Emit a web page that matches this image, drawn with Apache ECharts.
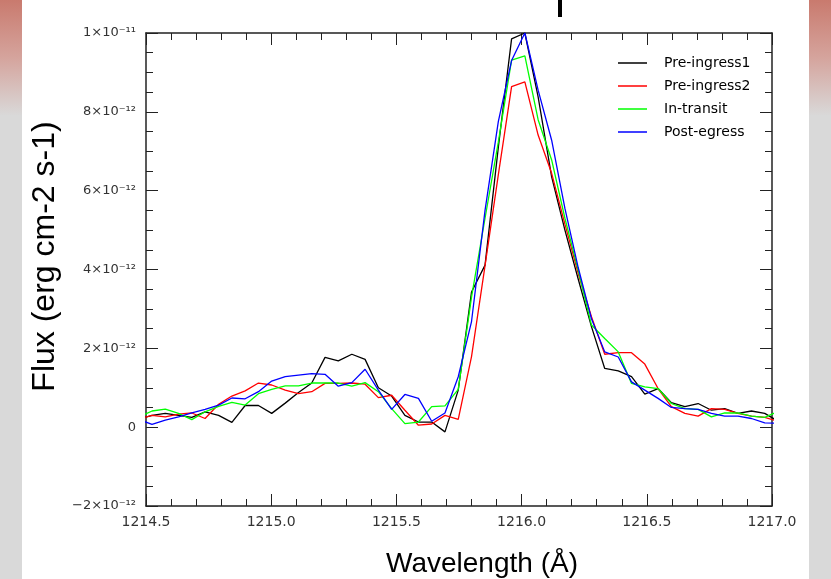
<!DOCTYPE html>
<html>
<head>
<meta charset="utf-8">
<script src="https://cdn.jsdelivr.net/npm/echarts@6/dist/echarts.min.js"></script>
<style>
html,body{margin:0;padding:0;background:#fff;}
#chart{width:831px;height:579px;}
</style>
</head>
<body>
<div id="chart"></div>
<script>
// Wavelength grid (Å)
const wavelength = [1214.470, 1214.524, 1214.577, 1214.630, 1214.683, 1214.736, 1214.790, 1214.843, 1214.896, 1214.949,
  1215.002, 1215.056, 1215.109, 1215.162, 1215.215, 1215.268, 1215.322, 1215.375, 1215.428, 1215.481,
  1215.534, 1215.588, 1215.641, 1215.694, 1215.747, 1215.800, 1215.854, 1215.907, 1215.960, 1216.013,
  1216.066, 1216.120, 1216.173, 1216.226, 1216.279, 1216.332, 1216.386, 1216.439, 1216.492, 1216.545,
  1216.598, 1216.652, 1216.705, 1216.758, 1216.811, 1216.864, 1216.918, 1216.971, 1217.024];

// Flux values in units of 1e-12 erg cm-2 s-1
const preIngress1 = [0.20, 0.30, 0.35, 0.30, 0.25, 0.39, 0.30, 0.12, 0.55, 0.55,
  0.35, 0.61, 0.88, 1.12, 1.77, 1.68, 1.85, 1.72, 1.00, 0.79,
  0.30, 0.13, 0.13, -0.12, 0.94, 3.43, 4.11, 7.10, 9.85, 10.00,
  8.38, 6.35, 5.00, 3.76, 2.55, 1.49, 1.43, 1.28, 0.84, 0.98,
  0.62, 0.52, 0.60, 0.43, 0.47, 0.35, 0.41, 0.35, 0.15];
const preIngress2 = [0.20, 0.30, 0.26, 0.33, 0.36, 0.22, 0.58, 0.79, 0.92, 1.12,
  1.07, 0.94, 0.85, 0.90, 1.11, 1.11, 1.12, 1.09, 0.75, 0.81,
  0.43, 0.05, 0.08, 0.30, 0.20, 1.79, 4.10, 6.40, 8.64, 8.76,
  7.41, 6.44, 5.15, 3.90, 2.80, 1.85, 1.89, 1.89, 1.60, 0.98,
  0.52, 0.35, 0.28, 0.47, 0.45, 0.35, 0.28, 0.25, 0.15];
const inTransit = [0.25, 0.41, 0.46, 0.35, 0.19, 0.39, 0.53, 0.63, 0.56, 0.85,
  0.96, 1.05, 1.05, 1.12, 1.12, 1.12, 1.04, 1.13, 0.90, 0.47,
  0.09, 0.13, 0.52, 0.54, 0.96, 3.30, 5.30, 7.23, 9.31, 9.42,
  7.80, 6.78, 5.30, 3.98, 2.59, 2.25, 1.91, 1.11, 1.02, 0.98,
  0.60, 0.47, 0.45, 0.26, 0.36, 0.36, 0.28, 0.25, 0.40];
const postEgress = [0.20, 0.07, 0.18, 0.26, 0.36, 0.45, 0.56, 0.74, 0.72, 0.90,
  1.17, 1.28, 1.32, 1.36, 1.34, 1.04, 1.13, 1.47, 0.94, 0.45,
  0.83, 0.73, 0.15, 0.36, 1.28, 2.68, 5.50, 7.75, 9.30, 10.00,
  8.55, 7.28, 5.55, 4.05, 2.75, 1.91, 1.78, 1.15, 0.94, 0.73,
  0.50, 0.47, 0.45, 0.35, 0.28, 0.28, 0.22, 0.11, 0.10];

const seriesNames = ['Pre-ingress1', 'Pre-ingress2', 'In-transit', 'Post-egress'];
const seriesColors = ['#000000', '#ff0000', '#00ff00', '#0000ff'];
const seriesValues = [preIngress1, preIngress2, inTransit, postEgress];

const xTitle = 'Wavelength (Å)';
const yTitle = 'Flux (erg cm-2 s-1)';

function yLabel(v) {
  if (v === 0) return '0';
  if (v === 10) return '1×10⁻¹¹';
  return (v < 0 ? '−' + (-v) : v) + '×10⁻¹²';
}

const font = 'DejaVu Sans';
const axisColor = '#222';

const chart = echarts.init(document.getElementById('chart'), null, {renderer: 'canvas'});

const baseX = {
  type: 'value', min: 1214.5, max: 1217.0, interval: 0.5,
  axisLine: {show: true, onZero: false, lineStyle: {color: axisColor, width: 1.5}},
  axisTick: {show: true, inside: true, length: 12, lineStyle: {color: axisColor, width: 1}},
  minorTick: {show: true, splitNumber: 5, length: 7, lineStyle: {color: axisColor, width: 1}},
  splitLine: {show: false}, minorSplitLine: {show: false}
};
const baseY = {
  type: 'value', min: -2, max: 10, interval: 2,
  axisLine: {show: true, onZero: false, lineStyle: {color: axisColor, width: 1.5}},
  axisTick: {show: true, inside: true, length: 12, lineStyle: {color: axisColor, width: 1}},
  minorTick: {show: true, splitNumber: 4, length: 7, lineStyle: {color: axisColor, width: 1}},
  splitLine: {show: false}, minorSplitLine: {show: false}
};

const stripFill = () => new echarts.graphic.LinearGradient(0, 0, 0, 1, [
  {offset: 0, color: '#c97a6e'}, {offset: 0.1, color: '#d5a49d'},
  {offset: 0.2, color: '#d9d9d9'}, {offset: 1, color: '#d9d9d9'}]);

chart.setOption({
  animation: false,
  backgroundColor: '#ffffff',
  graphic: [
    {type: 'rect', left: 0, top: 0, shape: {width: 22, height: 579}, style: {fill: stripFill()}, silent: true},
    {type: 'rect', left: 809, top: 0, shape: {width: 22, height: 579}, style: {fill: stripFill()}, silent: true},
    {type: 'rect', left: 558, top: 0, shape: {width: 4, height: 17}, style: {fill: '#000'}, silent: true}
  ],
  grid: {left: 146, top: 33, width: 626, height: 473, containLabel: false, outerBoundsMode: 'none'},
  legend: {
    data: seriesNames.map(n => ({name: n, icon: 'rect'})),
    orient: 'vertical', left: 613, top: 51,
    itemWidth: 29, itemHeight: 1.5, itemGap: 9,
    textStyle: {fontFamily: font, fontSize: 14, color: '#000', padding: [0, 0, 0, 12]}
  },
  xAxis: [
    Object.assign({}, baseX, {
      position: 'bottom',
      axisLabel: {show: true, margin: 9, color: '#333', fontFamily: font, fontSize: 14,
        formatter: v => v.toFixed(1)},
      name: xTitle, nameLocation: 'middle', nameGap: 44,
      nameTextStyle: {fontFamily: 'Liberation Sans', fontSize: 28, color: '#000', padding: [0, 0, 0, 46]}
    }),
    Object.assign({}, baseX, {position: 'top', axisLabel: {show: false}})
  ],
  yAxis: [
    Object.assign({}, baseY, {
      position: 'left',
      axisLabel: {show: true, margin: 10, color: '#333', fontFamily: font, fontSize: 13, formatter: yLabel},
      name: yTitle, nameLocation: 'middle', nameGap: 66, nameRotate: 90,
      nameTextStyle: {fontFamily: 'Liberation Sans', fontSize: 32, color: '#000', padding: [0, 0, 0, 26]}
    }),
    Object.assign({}, baseY, {position: 'right', axisLabel: {show: false}})
  ],
  series: seriesNames.map((name, s) => ({
    name: name, type: 'line', xAxisIndex: 0, yAxisIndex: 0,
    data: wavelength.map((w, i) => [w, seriesValues[s][i]]),
    showSymbol: false, symbol: 'none', clip: true,
    color: seriesColors[s],
    lineStyle: {color: seriesColors[s], width: 1.3}
  }))
});
</script>
</body>
</html>
